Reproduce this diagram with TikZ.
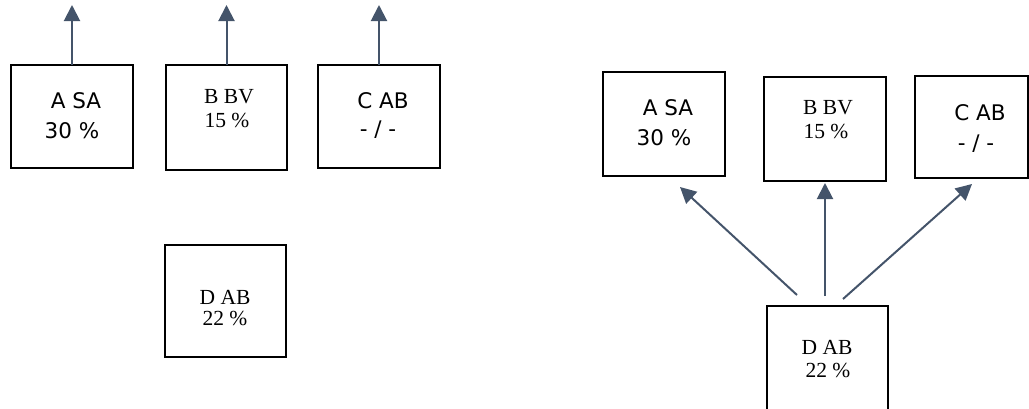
\documentclass[tikz,border=0pt]{standalone}
\usepackage{fontspec}
\setmainfont{Liberation Serif}
\newfontfamily\sansf{DejaVu Sans}
\usetikzlibrary{arrows.meta}
\definecolor{arrcol}{HTML}{44546A}
\begin{document}
\begin{tikzpicture}[x=1pt,y=-1pt,
  box/.style={draw=black, line width=1.9pt, rectangle, inner sep=0pt, outer sep=0pt},
  sanstxt/.style={font=\sansf\fontsize{21.5}{25}\selectfont, inner sep=0pt, anchor=base},
  seriftxt/.style={font=\fontsize{21.5}{25}\selectfont, inner sep=0pt, anchor=base},
  conn/.style={draw=arrcol, line width=2pt, -{Triangle[length=16pt,width=16pt]}}]
\useasboundingbox (0,0) rectangle (1029,408);
% ---------- left group ----------
\node[box, minimum width=122pt, minimum height=103pt] (aL) at (72,116.5) {};
\node[box, minimum width=121pt, minimum height=105pt] (bL) at (226.5,117.5) {};
\node[box, minimum width=122pt, minimum height=103pt] (cL) at (379,116.5) {};
\node[box, minimum width=121pt, minimum height=112pt] (dL) at (225.5,301) {};
\node[sanstxt] (aL1) at (76,108) {A SA};
\node[sanstxt] (aL2) at (72,138) {30 \%};
\node[seriftxt] (bL1) at (229,103) {B BV};
\node[seriftxt] (bL2) at (227,127) {15 \%};
\node[sanstxt] (cL1) at (383,108) {C AB};
\node[sanstxt] (cL2) at (378,136) {- / -};
\node[seriftxt] (dL1) at (225,304) {D AB};
\node[seriftxt] (dL2) at (225,325) {22 \%};
\coordinate (aLt) at (72,5);
\coordinate (bLt) at (226.5,5);
\coordinate (cLt) at (379,5);
\draw[conn] (aL.north) -- (aLt);
\draw[conn] (bL.north) -- (bLt);
\draw[conn] (cL.north) -- (cLt);
% ---------- right group ----------
\node[box, minimum width=122pt, minimum height=104pt] (aR) at (664,124) {};
\node[box, minimum width=122pt, minimum height=104pt] (bR) at (825,129) {};
\node[box, minimum width=113pt, minimum height=102pt] (cR) at (971.5,127) {};
\node[box, minimum width=121pt, minimum height=120pt] (dR) at (827.5,366) {};
\node[sanstxt] (aR1) at (668,115) {A SA};
\node[sanstxt] (aR2) at (664,145) {30 \%};
\node[seriftxt] (bR1) at (828,114) {B BV};
\node[seriftxt] (bR2) at (826,138) {15 \%};
\node[sanstxt] (cR1) at (980,120) {C AB};
\node[sanstxt] (cR2) at (976,150) {- / -};
\node[seriftxt] (dR1) at (827,354) {D AB};
\node[seriftxt] (dR2) at (828,377) {22 \%};
\coordinate (s1) at (797,295);
\coordinate (s2) at (825,296);
\coordinate (s3) at (843,299);
\coordinate (t1) at (680,187);
\coordinate (t2) at (825,183);
\coordinate (t3) at (972,184);
\draw[conn] (s1) -- (t1);
\draw[conn] (s2) -- (t2);
\draw[conn] (s3) -- (t3);
\end{tikzpicture}
\end{document}
